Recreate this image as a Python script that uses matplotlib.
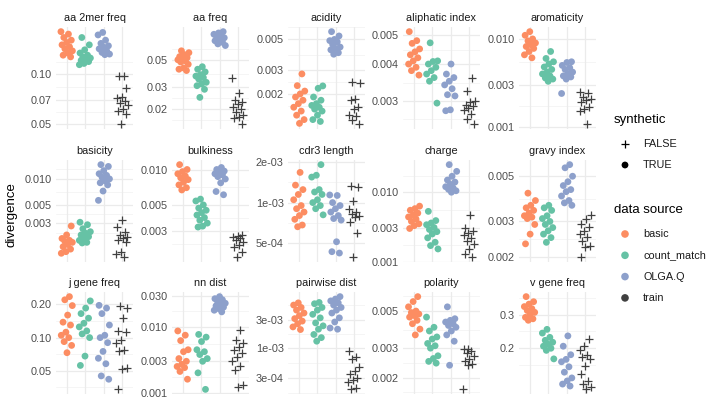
import numpy as np
import matplotlib
matplotlib.use('Agg')
from matplotlib import pyplot as plt

plt.rcParams['font.family'] = ['Liberation Sans', 'DejaVu Sans']

# 数据：每个面板四组 (basic, count_match, OLGA.Q, train)
metrics = ['aa 2mer freq', 'aa freq', 'acidity', 'aliphatic index', 'aromaticity',
           'basicity', 'bulkiness', 'cdr3 length', 'charge', 'gravy index',
           'j gene freq', 'nn dist', 'pairwise dist', 'polarity', 'v gene freq']
sources = ['basic', 'count_match', 'OLGA.Q', 'train']

aa2mer_basic = [0.180, 0.174, 0.166, 0.160, 0.155, 0.150, 0.146, 0.142, 0.138, 0.134, 0.130, 0.127]
aa2mer_count = [0.166, 0.150, 0.140, 0.134, 0.130, 0.127, 0.125, 0.123, 0.121, 0.119, 0.116, 0.114]
aa2mer_olga = [0.178, 0.172, 0.160, 0.153, 0.148, 0.145, 0.142, 0.138, 0.135, 0.132, 0.131]
aa2mer_train = [0.098, 0.098, 0.083, 0.073, 0.072, 0.069, 0.067, 0.065, 0.062, 0.060, 0.058, 0.050]

aa_basic = [0.059, 0.057, 0.055, 0.053, 0.052, 0.051, 0.050, 0.049, 0.048, 0.046, 0.043, 0.042, 0.041]
aa_count = [0.044, 0.042, 0.040, 0.038, 0.037, 0.036, 0.035, 0.033, 0.032, 0.031, 0.029, 0.025]
aa_olga = [0.084, 0.082, 0.080, 0.078, 0.076, 0.075, 0.073, 0.071, 0.069, 0.067, 0.065]
aa_train = [0.036, 0.027, 0.024, 0.023, 0.022, 0.021, 0.020, 0.019, 0.018, 0.0175, 0.017, 0.0152]

acid_basic = [0.0028, 0.0023, 0.0021, 0.0020, 0.0019, 0.0018, 0.0017, 0.0016, 0.0015, 0.0014, 0.0013, 0.00122]
acid_count = [0.00229, 0.0022, 0.0019, 0.0018, 0.0017, 0.00165, 0.0016, 0.00155, 0.0015, 0.0014, 0.0013, 0.00126]
acid_olga = [0.0057, 0.0053, 0.0050, 0.0049, 0.0048, 0.0046, 0.0044, 0.0043, 0.0042, 0.0040, 0.0039]
acid_train = [0.00245, 0.0024, 0.00185, 0.0018, 0.0016, 0.00155, 0.0014, 0.00138, 0.0013, 0.0012]

aliph_basic = [0.00515, 0.0048, 0.0047, 0.0045, 0.0044, 0.0043, 0.0042, 0.0041, 0.0040, 0.0039, 0.0038, 0.00367]
aliph_count = [0.00472, 0.0041, 0.00408, 0.0040, 0.0039, 0.0038, 0.0037, 0.0036, 0.0035, 0.00295]
aliph_olga = [0.0040, 0.0037, 0.0036, 0.0035, 0.0034, 0.0033, 0.00315, 0.00312, 0.0028, 0.00278]
aliph_train = [0.0036, 0.00323, 0.0030, 0.00298, 0.0029, 0.00288, 0.00285, 0.0028, 0.0027, 0.0026, 0.0025]

arom_basic = [0.0121, 0.0110, 0.0100, 0.0095, 0.0090, 0.0086, 0.0082, 0.0078, 0.0072, 0.0066, 0.0061]
arom_count = [0.0072, 0.0060, 0.0055, 0.0052, 0.0048, 0.0045, 0.0042, 0.0040, 0.0038, 0.0036, 0.0035, 0.0033]
arom_olga = [0.0055, 0.0054, 0.0050, 0.0047, 0.0045, 0.0042, 0.0040, 0.0038, 0.0037, 0.0035, 0.0024]
arom_train = [0.0025, 0.0024, 0.0022, 0.0021, 0.0020, 0.0019, 0.0017, 0.0016, 0.0015, 0.00107]

basi_basic = [0.0028, 0.0022, 0.0020, 0.0019, 0.00185, 0.0018, 0.0017, 0.0016, 0.0015, 0.0014, 0.00134]
basi_count = [0.0031, 0.0029, 0.0026, 0.0024, 0.0023, 0.0022, 0.0021, 0.0020, 0.0019, 0.0018, 0.00177]
basi_olga = [0.0147, 0.0140, 0.0125, 0.0115, 0.0110, 0.0105, 0.0100, 0.0095, 0.0090, 0.0085, 0.0072, 0.0056]
basi_train = [0.0033, 0.0027, 0.0024, 0.0022, 0.0021, 0.0020, 0.0019, 0.0018, 0.0014, 0.0013, 0.0012]

bulk_basic = [0.0110, 0.0100, 0.0096, 0.0092, 0.0088, 0.0085, 0.0082, 0.0078, 0.0074, 0.0070, 0.0067]
bulk_count = [0.0056, 0.0054, 0.0050, 0.0047, 0.0045, 0.0043, 0.0041, 0.0039, 0.0037, 0.0035, 0.0033, 0.00324]
bulk_olga = [0.0104, 0.0100, 0.0097, 0.0094, 0.0092, 0.0090, 0.0087, 0.0083, 0.0077, 0.0065, 0.0061]
bulk_train = [0.0028, 0.0027, 0.00265, 0.0026, 0.0025, 0.0024, 0.0023, 0.0022, 0.0020, 0.00179]

cdr3_basic = [0.00168, 0.00135, 0.00125, 0.00115, 0.00105, 0.00095, 0.00090, 0.00085, 0.00080, 0.00075, 0.00068, 0.00066]
cdr3_count = [0.00192, 0.00160, 0.00155, 0.00125, 0.00120, 0.00115, 0.00105, 0.00100, 0.00095, 0.00090, 0.00081]
cdr3_olga = [0.00114, 0.00113, 0.00100, 0.00095, 0.00090, 0.00085, 0.00080, 0.00076, 0.00074, 0.00051, 0.00043, 0.00042]
cdr3_train = [0.00132, 0.00130, 0.00102, 0.00090, 0.00085, 0.00082, 0.00080, 0.00078, 0.00072, 0.00059, 0.00039]

charge_basic = [0.0063, 0.0058, 0.0055, 0.0050, 0.0047, 0.0044, 0.0041, 0.0038, 0.0035, 0.0033, 0.0030]
charge_count = [0.0053, 0.0039, 0.0036, 0.0034, 0.0031, 0.0029, 0.0027, 0.0025, 0.0022, 0.0019, 0.0017, 0.00152]
charge_olga = [0.025, 0.020, 0.017, 0.015, 0.014, 0.013, 0.012, 0.0115, 0.011, 0.0105, 0.010]
charge_train = [0.0047, 0.0030, 0.0028, 0.0026, 0.0024, 0.0022, 0.0020, 0.0018, 0.0015, 0.0013, 0.00115]

gravy_basic = [0.00413, 0.0038, 0.0036, 0.0035, 0.0034, 0.0033, 0.0032, 0.00315, 0.0031, 0.0029, 0.0026, 0.00233]
gravy_count = [0.0036, 0.0035, 0.0034, 0.0032, 0.0031, 0.0030, 0.0029, 0.0028, 0.0027, 0.0026, 0.0025, 0.00237]
gravy_olga = [0.0057, 0.0055, 0.0050, 0.0047, 0.0045, 0.0043, 0.0042, 0.0040, 0.0038, 0.0037, 0.0036]
gravy_train = [0.00322, 0.0031, 0.0029, 0.00281, 0.0027, 0.0026, 0.00252, 0.0024, 0.00228, 0.00225, 0.0020]

jgene_basic = [0.235, 0.220, 0.195, 0.160, 0.138, 0.130, 0.112, 0.105, 0.100, 0.092, 0.085, 0.073]
jgene_count = [0.215, 0.185, 0.165, 0.150, 0.135, 0.125, 0.115, 0.108, 0.100, 0.068, 0.056]
jgene_olga = [0.196, 0.185, 0.165, 0.130, 0.105, 0.100, 0.090, 0.075, 0.065, 0.058, 0.045, 0.042]
jgene_train = [0.195, 0.185, 0.150, 0.115, 0.113, 0.095, 0.090, 0.078, 0.076, 0.053, 0.052, 0.034]

nn_basic = [0.0087, 0.0075, 0.0062, 0.0045, 0.0042, 0.0033, 0.0030, 0.0027, 0.0025, 0.0024, 0.0021, 0.0016]
nn_count = [0.0077, 0.0070, 0.0060, 0.0045, 0.0042, 0.0038, 0.0033, 0.0030, 0.0020, 0.00112]
nn_olga = [0.029, 0.027, 0.026, 0.024, 0.023, 0.022, 0.021, 0.020, 0.019, 0.018, 0.017]
nn_train = [0.009, 0.0063, 0.0058, 0.0050, 0.0045, 0.0040, 0.0035, 0.0030, 0.0025, 0.0022, 0.0013, 0.0012]

pair_basic = [0.0060, 0.0055, 0.0050, 0.0045, 0.0040, 0.0036, 0.0032, 0.0029, 0.0026, 0.0023, 0.00207]
pair_count = [0.0061, 0.0058, 0.0050, 0.0045, 0.0038, 0.0033, 0.0027, 0.0024, 0.0021, 0.0017, 0.0015, 0.0013]
pair_olga = [0.0077, 0.0070, 0.0065, 0.0060, 0.0055, 0.0050, 0.0045, 0.0040, 0.0033, 0.0028, 0.0022, 0.0021]
pair_train = [0.00087, 0.00070, 0.00063, 0.00046, 0.00040, 0.00035, 0.00030, 0.00028, 0.00026, 0.00020, 0.00019]

pol_basic = [0.0061, 0.0057, 0.0053, 0.0050, 0.0049, 0.0048, 0.0047, 0.0046, 0.0044, 0.0042, 0.0039, 0.0036]
pol_count = [0.0046, 0.0040, 0.0038, 0.0035, 0.0034, 0.0032, 0.0031, 0.0030, 0.0027, 0.0026, 0.0025, 0.00244]
pol_olga = [0.0053, 0.0045, 0.0044, 0.0043, 0.0042, 0.0041, 0.0040, 0.0038, 0.0036, 0.0033, 0.00237]
pol_train = [0.00297, 0.00295, 0.0029, 0.0028, 0.0027, 0.0026, 0.0025, 0.0024, 0.00237, 0.0017]

vgene_basic = [0.372, 0.350, 0.340, 0.330, 0.322, 0.315, 0.308, 0.300, 0.290, 0.285, 0.280]
vgene_count = [0.251, 0.240, 0.228, 0.220, 0.215, 0.210, 0.205, 0.200, 0.195, 0.176]
vgene_olga = [0.232, 0.205, 0.185, 0.175, 0.170, 0.160, 0.150, 0.140, 0.135, 0.130, 0.127]
vgene_train = [0.224, 0.205, 0.195, 0.185, 0.180, 0.176, 0.162, 0.146, 0.135, 0.130, 0.125, 0.122]

panel_data = [
    [aa2mer_basic, aa2mer_count, aa2mer_olga, aa2mer_train],
    [aa_basic, aa_count, aa_olga, aa_train],
    [acid_basic, acid_count, acid_olga, acid_train],
    [aliph_basic, aliph_count, aliph_olga, aliph_train],
    [arom_basic, arom_count, arom_olga, arom_train],
    [basi_basic, basi_count, basi_olga, basi_train],
    [bulk_basic, bulk_count, bulk_olga, bulk_train],
    [cdr3_basic, cdr3_count, cdr3_olga, cdr3_train],
    [charge_basic, charge_count, charge_olga, charge_train],
    [gravy_basic, gravy_count, gravy_olga, gravy_train],
    [jgene_basic, jgene_count, jgene_olga, jgene_train],
    [nn_basic, nn_count, nn_olga, nn_train],
    [pair_basic, pair_count, pair_olga, pair_train],
    [pol_basic, pol_count, pol_olga, pol_train],
    [vgene_basic, vgene_count, vgene_olga, vgene_train],
]

# 刻度
tick_vals = [
    [0.05, 0.07, 0.10], [0.02, 0.03, 0.05], [0.002, 0.003, 0.005], [0.003, 0.004, 0.005],
    [0.001, 0.003, 0.010], [0.003, 0.005, 0.010], [0.003, 0.005, 0.010], [5e-4, 1e-3, 2e-3],
    [0.001, 0.003, 0.010], [0.002, 0.003, 0.005], [0.05, 0.10, 0.20], [0.001, 0.003, 0.010, 0.030],
    [3e-4, 1e-3, 3e-3], [0.002, 0.003, 0.005], [0.2, 0.3],
]
tick_labels = [
    ['0.05', '0.07', '0.10'], ['0.02', '0.03', '0.05'], ['0.002', '0.003', '0.005'], ['0.003', '0.004', '0.005'],
    ['0.001', '0.003', '0.010'], ['0.003', '0.005', '0.010'], ['0.003', '0.005', '0.010'], ['5e-04', '1e-03', '2e-03'],
    ['0.001', '0.003', '0.010'], ['0.002', '0.003', '0.005'], ['0.05', '0.10', '0.20'], ['0.001', '0.003', '0.010', '0.030'],
    ['3e-04', '1e-03', '3e-03'], ['0.002', '0.003', '0.005'], ['0.2', '0.3'],
]

colors = ['#FC8D62', '#66C2A5', '#8DA0CB', '#404040']
W, H = 720, 405
col_left = [56, 172, 288, 403, 519]
row_top = [27, 160, 292]
pw, ph = 77, 102

fig = plt.figure(figsize=(7.2, 4.05), dpi=100)

for k in range(15):
    r, c = k // 5, k % 5
    ax = fig.add_axes([col_left[c] / W, 1 - (row_top[r] + ph) / H, pw / W, ph / H])
    allv = np.concatenate([np.log10(v) for v in panel_data[k]])
    lo, hi = allv.min(), allv.max()
    pad = (hi - lo) * 0.05
    ax.set_yscale('log')
    ax.set_ylim(10 ** (lo - pad), 10 ** (hi + pad))
    ax.set_xlim(-0.6, 3.6)
    # 网格
    b = list(np.log10(tick_vals[k]))
    bd = b[1] - b[0]
    b = [b[0] - bd] + b + [b[-1] + bd]
    minors = [(b[i] + b[i + 1]) / 2 for i in range(len(b) - 1)]
    for m in minors:
        ax.axhline(10 ** m, color='#F2F2F2', lw=0.5, zorder=0)
    for t in tick_vals[k]:
        ax.axhline(t, color='#EBEBEB', lw=0.9, zorder=0)
    for g in range(4):
        ax.axvline(g, color='#EBEBEB', lw=0.9, zorder=0)
    for g in range(4):
        vals = np.array(panel_data[k][g])
        n = len(vals)
        jit = ((np.arange(n) * 0.618034 + k * 0.37 + g * 0.21) % 1 - 0.5) * 0.66
        if g < 3:
            ax.scatter(g + jit, vals, s=24, color=colors[g], edgecolors='none', zorder=3)
        else:
            ax.scatter(g + jit, vals, s=40, marker='+', color=colors[g], linewidths=0.9, zorder=3)
    ax.set_yticks(tick_vals[k])
    ax.set_yticklabels(tick_labels[k])
    ax.minorticks_off()
    ax.set_xticks([])
    ax.tick_params(axis='y', length=0, pad=3, labelsize=7.8, labelcolor='#4D4D4D')
    for s in ax.spines.values():
        s.set_visible(False)
    ax.set_title(metrics[k], fontsize=7.8, color='#1A1A1A', pad=4)

# 图例
lg = fig.add_axes([0, 0, 1, 1])
lg.set_xlim(0, W)
lg.set_ylim(H, 0)
lg.axis('off')
lg.text(12, 215, 'divergence', rotation=90, fontsize=9.5, ha='center', va='center')
lg.text(614, 120, 'synthetic', fontsize=9.5, va='center')
lg.scatter([625], [144], marker='+', s=40, color='black', linewidths=0.9)
lg.text(643, 144, 'FALSE', fontsize=7.8, va='center', color='#1A1A1A')
lg.scatter([625], [165], s=24, color='black', edgecolors='none')
lg.text(643, 165, 'TRUE', fontsize=7.8, va='center', color='#1A1A1A')
lg.text(614, 210, 'data source', fontsize=9.5, va='center')
for i, (name, col) in enumerate(zip(sources, colors)):
    y = 234 + i * 21.3
    lg.scatter([625], [y], s=30, color=col, edgecolors='none')
    lg.text(643, y, name, fontsize=7.8, va='center', color='#1A1A1A')

plt.savefig('out.png', dpi=100)
